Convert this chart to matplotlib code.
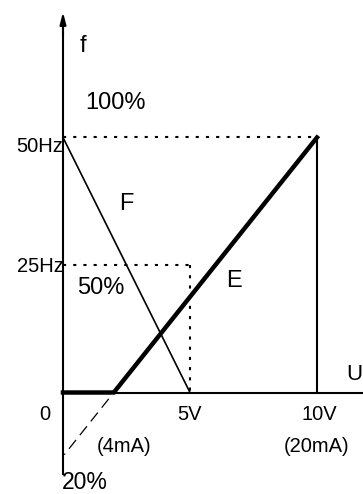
import matplotlib
matplotlib.use("Agg")
import matplotlib.pyplot as plt

plt.rcParams["font.family"] = ["Liberation Sans", "DejaVu Sans"]

# characteristic curves (volts -> Hz)
e_volts = [0, 2, 10]
e_hz = [0, 0, 50]
f_volts = [0, 5]
f_hz = [50, 0]
ext_volts = [1.8, 0.05]
ext_hz = [-1.25, -12.2]

# reference levels
full_hz = 50
half_hz = 25
half_v = 5
full_v = 10

tick_labels = ["0", "5V", "10V"]
tick_volts = [-0.7, 5, 10.1]
ma_labels = ["(4mA)", "(20mA)"]
ma_volts = [2.4, 10.0]

fig = plt.figure(figsize=(3.63, 4.94), dpi=100)
ax = fig.add_axes([0, 0, 1, 1])
ax.set_xlim(-2.480, 11.811)
ax.set_ylim(-19.90, 76.96)
ax.axis("off")

# axes
ax.plot([0, 12], [0, 0], color="black", lw=1.5, solid_capstyle="butt")
ax.plot([0, 0], [-16.2, 72], color="black", lw=1.5, solid_capstyle="butt")
ax.annotate("", xy=(0, 74.6), xytext=(0, 70),
            arrowprops=dict(arrowstyle="-|>,head_length=0.7,head_width=0.18",
                            color="black", lw=1.5, shrinkA=0, shrinkB=0))

# dotted guides
dot = (0, (1.5, 3.4))
ax.plot([0, full_v], [full_hz, full_hz], color="black", lw=1.5, linestyle=dot)
ax.plot([0, half_v], [half_hz, half_hz], color="black", lw=1.5, linestyle=dot)
ax.plot([half_v, half_v], [half_hz, 0], color="black", lw=1.5, linestyle=dot)

# 10V vertical
ax.plot([full_v, full_v], [full_hz, 0], color="black", lw=1.5)

# curves
ax.plot(f_volts, f_hz, color="black", lw=1.2)
ax.plot(e_volts, e_hz, color="black", lw=3.2, solid_joinstyle="miter")
ax.plot(ext_volts, ext_hz, color="black", lw=0.9, linestyle=(0, (9, 5)))

# labels
big = 17
small = 14.5
ax.text(0.78, 68.0, "f", fontsize=big, ha="center", va="center")
ax.text(2.05, 56.8, "100%", fontsize=big, ha="center", va="center")
ax.text(0.02, full_hz - 1.8, "50Hz", fontsize=small, ha="right", va="center")
ax.text(2.48, 37.0, "F", fontsize=big, ha="center", va="center")
ax.text(0.02, half_hz - 0.2, "25Hz", fontsize=small, ha="right", va="center")
ax.text(1.5, 20.5, "50%", fontsize=big, ha="center", va="center")
ax.text(6.73, 21.9, "E", fontsize=big, ha="center", va="center")
ax.text(11.15, 3.6, "U", fontsize=16, ha="left", va="center")
for lbl, v in zip(tick_labels, tick_volts):
    ax.text(v, -4.4, lbl, fontsize=small, ha="center", va="center")
for lbl, v in zip(ma_labels, ma_volts):
    ax.text(v, -10.5, lbl, fontsize=small, ha="center", va="center")
ax.text(-0.05, -17.6, "20%", fontsize=16.5, ha="left", va="center")

fig.savefig("out.png", dpi=100)
